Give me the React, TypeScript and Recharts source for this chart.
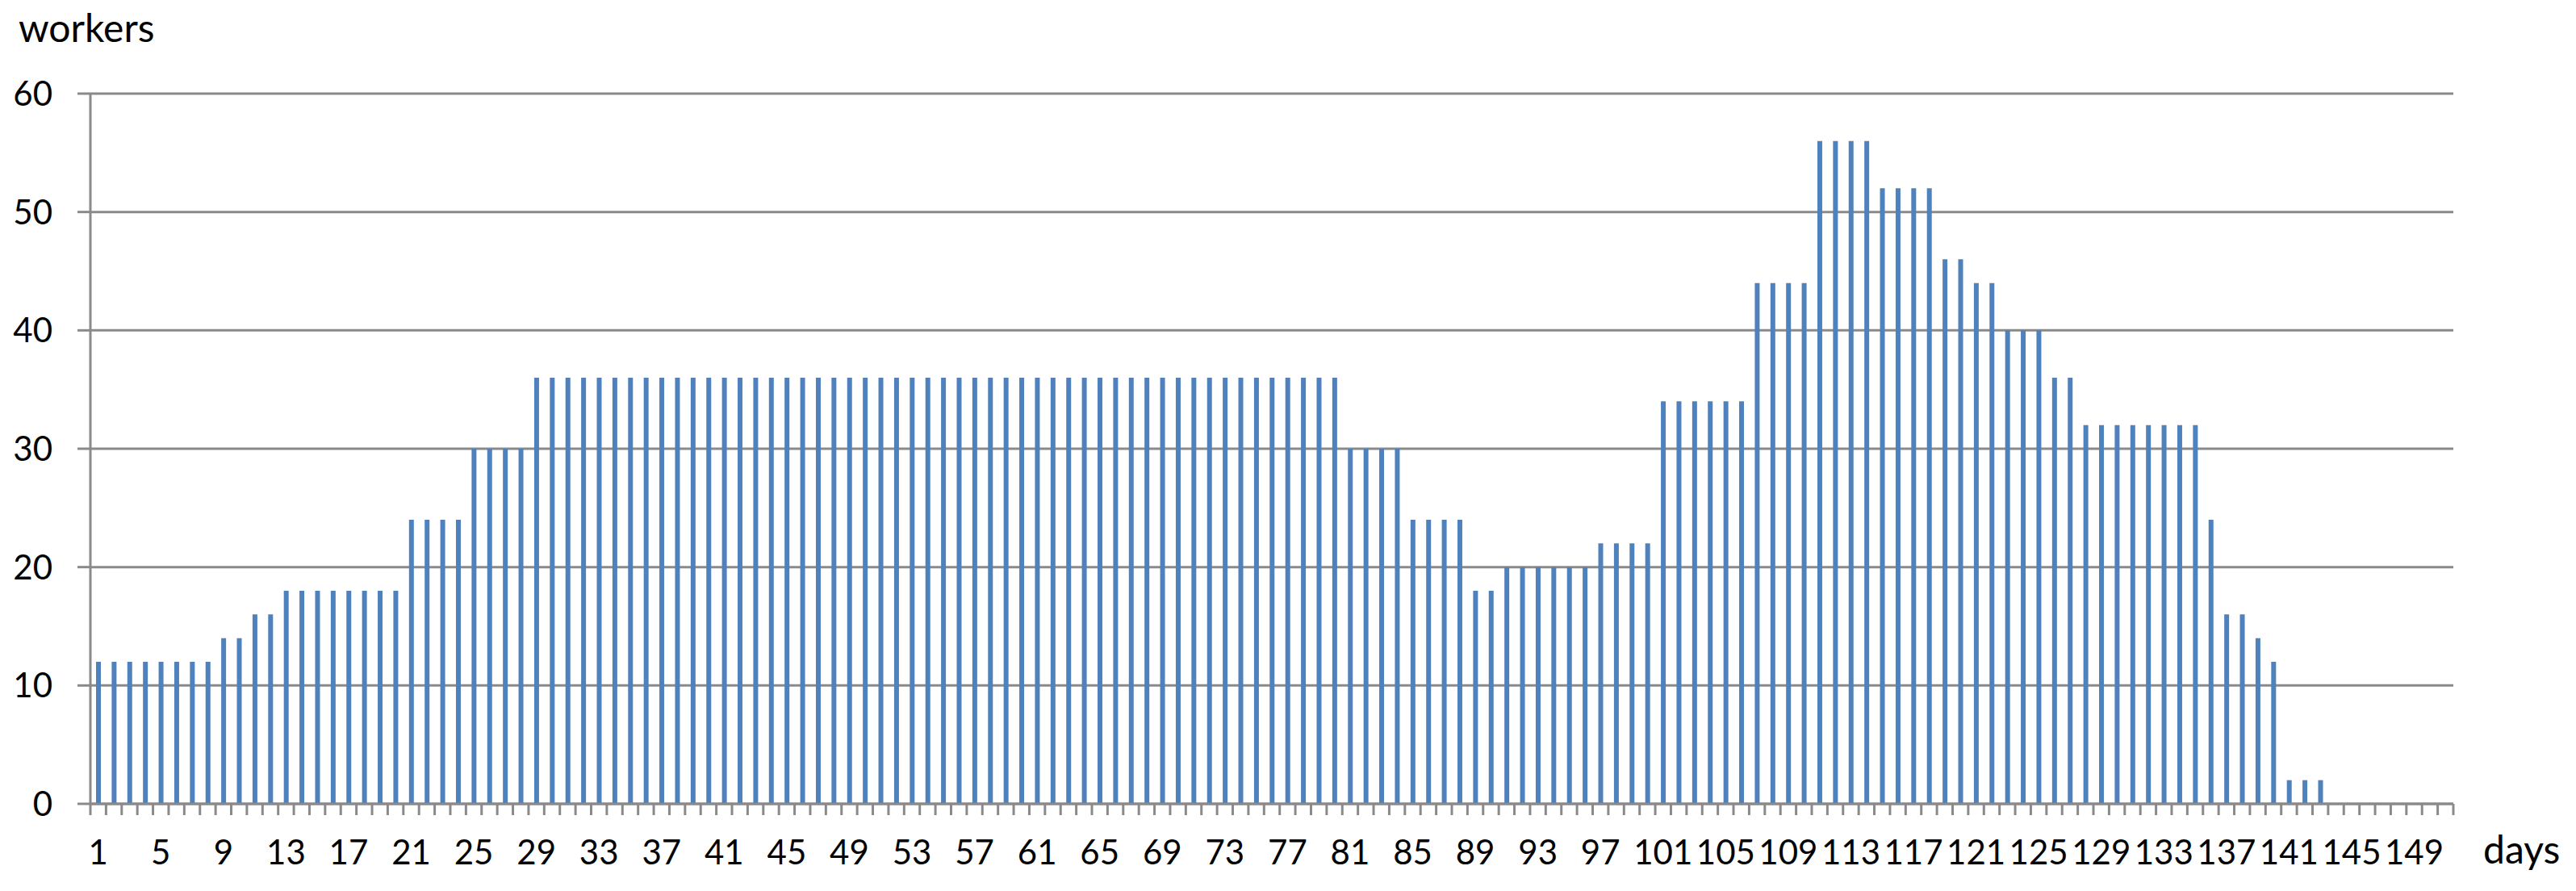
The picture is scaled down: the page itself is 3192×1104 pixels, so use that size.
import React from 'react';
import { BarChart, Bar, XAxis, YAxis, CartesianGrid } from 'recharts';

// categories: day numbers 1..151
const days: number[] = Array.from({ length: 151 }, (_, i) => i + 1);

// workers per day
const workers: number[] = [
  12, 12, 12, 12, 12, 12, 12, 12, 14, 14,
  16, 16, 18, 18, 18, 18, 18, 18, 18, 18,
  24, 24, 24, 24, 30, 30, 30, 30, 36, 36,
  36, 36, 36, 36, 36, 36, 36, 36, 36, 36,
  36, 36, 36, 36, 36, 36, 36, 36, 36, 36,
  36, 36, 36, 36, 36, 36, 36, 36, 36, 36,
  36, 36, 36, 36, 36, 36, 36, 36, 36, 36,
  36, 36, 36, 36, 36, 36, 36, 36, 36, 36,
  30, 30, 30, 30, 24, 24, 24, 24, 18, 18,
  20, 20, 20, 20, 20, 20, 22, 22, 22, 22,
  34, 34, 34, 34, 34, 34, 44, 44, 44, 44,
  56, 56, 56, 56, 52, 52, 52, 52, 46, 46,
  44, 44, 40, 40, 40, 36, 36, 32, 32, 32,
  32, 32, 32, 32, 32, 24, 16, 16, 14, 12,
  2, 2, 2, 0, 0, 0, 0, 0, 0, 0,
  0,
];

// tick labels
const dayLabels: number[] = [
  1, 5, 9, 13, 17, 21, 25, 29, 33, 37, 41, 45, 49, 53, 57, 61, 65, 69, 73,
  77, 81, 85, 89, 93, 97, 101, 105, 109, 113, 117, 121, 125, 129, 133, 137,
  141, 145, 149,
];
const workerTicks: number[] = [0, 10, 20, 30, 40, 50, 60];

const data = days.map((d, i) => ({ day: d, workers: workers[i] }));
const boundaries = [...days.map((d) => d - 0.5), days[days.length - 1] + 0.5];
const xDomain: [number, number] = [boundaries[0], boundaries[boundaries.length - 1]];

const GRAY = '#8a8a8a';
const FONT = 'Lato, "Open Sans", sans-serif';

const EmptyTick = () => <g />;

export default function App() {
  return (
    <div style={{ position: 'relative', width: 3176, height: 1088 }}>
      <BarChart
        width={3176}
        height={1088}
        data={data}
        margin={{ top: 108, right: 144, bottom: 26, left: 0 }}
        barSize={6}
      >
        <CartesianGrid horizontal vertical={false} stroke={GRAY} strokeWidth={3} />
        <XAxis
          type="number"
          dataKey="day"
          domain={xDomain}
          ticks={boundaries}
          interval={0}
          tick={EmptyTick}
          tickSize={14}
          height={14}
          axisLine={{ stroke: GRAY, strokeWidth: 3 }}
          tickLine={{ stroke: GRAY, strokeWidth: 3 }}
        />
        <XAxis
          xAxisId="labels"
          type="number"
          dataKey="day"
          domain={xDomain}
          ticks={dayLabels}
          interval={0}
          axisLine={false}
          tickLine={false}
          tickSize={0}
          tickMargin={31}
          height={60}
          tick={{ fill: '#000', fontSize: 42, fontFamily: FONT }}
        />
        <YAxis
          type="number"
          domain={[0, 60]}
          ticks={workerTicks}
          interval={0}
          width={104}
          tickSize={16}
          tickMargin={31}
          axisLine={{ stroke: GRAY, strokeWidth: 3 }}
          tickLine={{ stroke: GRAY, strokeWidth: 3 }}
          tick={{ fill: '#000', fontSize: 42, fontFamily: FONT }}
        />
        <Bar dataKey="workers" fill="#4f81bd" isAnimationActive={false} />
      </BarChart>
      <svg
        width={3192}
        height={1104}
        style={{ position: 'absolute', left: -8, top: -8, pointerEvents: 'none', overflow: 'visible' }}
      >
        <text x={23} y={52} fontSize={48} fontFamily={FONT} fill="#000">
          workers
        </text>
        <text x={3077} y={1070} fontSize={48} fontFamily={FONT} fill="#000">
          days
        </text>
      </svg>
    </div>
  );
}
